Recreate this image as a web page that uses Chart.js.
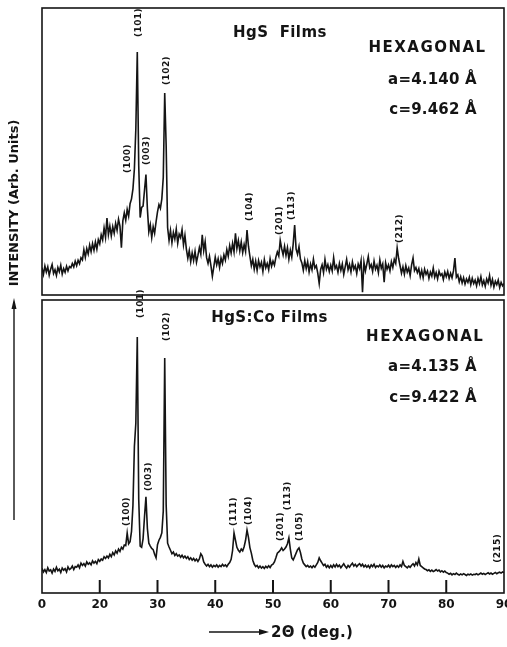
<!DOCTYPE html>
<html>
<head>
<meta charset="utf-8">
<script src="https://cdn.jsdelivr.net/npm/chart.js@4.4.1/dist/chart.umd.min.js"></script>
<style>
  html,body{margin:0;padding:0;background:#fff;overflow:hidden}
  #wrap{position:relative;width:520px;height:647px}
</style>
</head>
<body>
<div id="wrap"><canvas id="xrd" width="520" height="647"></canvas></div>
<script>
// -----------------------------
// Data: intensity, 2θ from 10° to 90° every 0.25°
// -----------------------------
const THETA_START = 10, THETA_STEP = 0.25;

// HgS films (upper trace), arbitrary units 0..100
const hgsIntensity = [
  9.5, 7.2, 10.1, 8.0, 9.8, 6.9, 9.0, 10.6, 7.5, 8.8, 6.8, 9.6, 8.1, 10.4, 7.3, 9.2, 7.9, 10.0, 8.4, 9.9,
  9.5, 11.0, 9.8, 11.8, 10.2, 12.1, 10.9, 13.0, 12.2, 15.8, 13.1, 16.2, 14.3, 17.4, 15.1, 17.9, 15.6, 18.5, 16.0, 19.3,
  17.8, 21.0, 19.2, 23.4, 20.1, 26.8, 21.0, 24.0, 20.6, 23.8, 21.5, 25.0, 22.6, 26.4, 24.0, 16.5, 25.8, 28.6, 26.0, 29.8,
  27.5, 31.8, 33.5, 37.0, 44.0, 58.0, 84.7, 45.0, 27.0, 30.5, 31.0, 36.5, 42.0, 30.0, 22.0, 24.5, 20.0, 23.8, 21.5, 25.5,
  29.0, 31.5, 30.2, 33.5, 41.0, 70.4, 52.0, 23.5, 19.0, 22.5, 18.2, 21.8, 19.5, 23.0, 18.0, 21.2, 20.0, 22.8, 17.5, 20.8,
  16.0, 12.8, 15.5, 11.6, 14.7, 12.0, 15.2, 11.4, 13.8, 16.5, 14.2, 21.0, 15.5, 18.6, 13.0, 11.0, 13.5, 10.2, 6.5, 9.8,
  13.2, 10.5, 12.6, 9.6, 12.9, 11.0, 14.0, 12.2, 15.8, 13.5, 17.2, 14.6, 18.0, 15.0, 21.5, 16.2, 19.0, 15.4, 18.5, 14.8,
  17.6, 15.2, 22.6, 17.0, 13.5, 10.2, 12.4, 9.0, 11.8, 8.6, 12.0, 9.8, 11.4, 8.2, 12.3, 9.5, 11.0, 8.8, 12.6, 10.0,
  11.8, 10.4, 13.2, 15.0, 13.6, 19.0, 16.2, 14.0, 17.0, 13.8, 16.5, 12.5, 15.6, 13.2, 17.8, 24.4, 16.0, 14.2, 16.8, 12.5,
  11.2, 8.6, 12.0, 9.2, 11.6, 8.0, 10.8, 8.8, 12.5, 9.4, 10.2, 7.6, 4.0, 8.9, 10.5, 7.8, 12.4, 9.0, 10.6, 8.2,
  10.4, 8.4, 13.0, 9.2, 10.2, 7.9, 11.0, 8.6, 10.8, 7.2, 9.8, 12.4, 8.8, 10.6, 8.0, 11.5, 9.0, 10.2, 7.5, 10.8,
  9.2, 12.0, 1.0, 11.4, 8.4, 10.8, 13.4, 9.5, 10.6, 8.2, 11.8, 9.0, 10.4, 7.8, 12.2, 9.3, 10.8, 4.5, 11.2, 9.0,
  10.5, 8.4, 11.6, 9.6, 12.4, 11.0, 16.4, 12.8, 10.2, 7.6, 9.8, 7.2, 10.2, 8.0, 9.4, 6.8, 10.5, 12.9, 8.5, 9.6,
  7.8, 9.2, 6.4, 8.6, 6.0, 9.0, 7.2, 8.4, 5.8, 8.0, 6.6, 9.4, 6.2, 7.8, 5.6, 8.3, 6.8, 7.4, 5.4, 8.0,
  6.4, 8.2, 5.8, 7.6, 6.0, 8.4, 12.9, 6.2, 7.0, 4.6, 6.4, 4.2, 6.0, 3.8, 5.6, 4.4, 6.2, 3.6, 5.8, 4.0,
  5.2, 3.2, 5.8, 4.0, 6.4, 3.5, 5.0, 3.0, 5.6, 4.2, 6.8, 3.4, 5.4, 2.8, 4.8, 3.6, 5.2, 2.6, 4.4, 3.2,
  4.0
];

// HgS:Co films (lower trace)
const hgsCoIntensity = [
  8.4, 7.2, 8.0, 7.0, 8.6, 7.5, 7.9, 6.8, 8.2, 7.4, 8.8, 7.6, 8.1, 7.0, 8.5, 7.8, 8.3, 7.2, 8.9, 8.0,
  8.4, 9.2, 8.0, 9.0, 8.8, 9.6, 8.6, 10.2, 9.4, 10.0, 9.2, 10.6, 9.8, 10.3, 9.6, 11.0, 10.2, 10.8, 10.0, 11.4,
  10.8, 11.6, 11.2, 12.4, 11.8, 12.6, 12.0, 13.2, 12.4, 13.8, 13.0, 14.4, 13.6, 15.0, 14.2, 15.6, 15.0, 16.4, 16.2, 20.5,
  16.8, 17.5, 21.0, 30.0, 50.0, 58.0, 87.4, 32.0, 16.0, 15.6, 18.5, 26.0, 32.8, 22.0, 17.0, 16.0, 15.2, 14.8, 13.2, 12.0,
  16.5, 18.0, 19.0, 20.5, 28.0, 80.2, 30.0, 17.0, 15.7, 14.6, 13.4, 14.0, 12.8, 13.4, 12.6, 13.0, 12.2, 12.9, 12.0, 12.6,
  11.8, 12.4, 11.4, 12.0, 11.2, 11.8, 11.0, 11.6, 10.8, 11.6, 13.4, 12.6, 10.6, 9.8, 9.2, 9.8, 9.0, 9.6, 8.8, 9.4,
  9.0, 9.6, 8.8, 9.4, 9.0, 9.8, 9.2, 9.6, 9.0, 9.8, 10.4, 11.5, 14.5, 20.5, 18.0, 15.6, 14.6, 14.0, 15.0, 14.4,
  15.8, 18.0, 21.5, 19.0, 15.5, 13.6, 11.2, 9.8, 9.0, 9.4, 8.6, 9.2, 8.5, 9.0, 8.4, 9.1, 8.6, 9.3, 8.7, 9.5,
  9.8, 10.6, 12.0, 13.6, 14.0, 14.6, 15.4, 14.5, 15.0, 15.7, 16.8, 18.8, 15.0, 12.0, 11.3, 12.4, 13.6, 14.8, 15.4, 13.8,
  11.6, 10.2, 9.6, 9.0, 9.4, 8.8, 9.2, 8.6, 9.3, 8.8, 9.6, 10.4, 12.0, 11.0, 10.2, 9.4, 9.8, 8.8, 9.4, 8.6,
  9.4, 8.7, 9.6, 8.9, 9.8, 9.0, 9.5, 8.6, 9.3, 10.0, 9.1, 8.5, 9.4, 8.8, 9.6, 10.2, 9.2, 9.8, 9.0, 9.6,
  10.0, 9.2, 9.8, 8.9, 9.5, 8.8, 9.4, 8.6, 9.6, 9.0, 9.8, 8.7, 9.3, 8.9, 9.6, 8.8, 9.4, 8.6, 9.2, 8.9,
  9.5, 8.8, 9.6, 9.0, 9.4, 8.7, 9.3, 8.8, 9.6, 9.0, 10.8, 9.4, 9.0, 8.6, 9.2, 8.8, 9.5, 10.0, 9.2, 10.4,
  9.6, 11.6, 9.4, 9.0, 8.6, 8.2, 8.0, 7.6, 7.9, 7.4, 7.8, 7.3, 7.6, 8.0, 7.5, 7.8, 7.2, 7.6, 7.1, 7.5,
  7.0, 6.8, 6.4, 6.7, 6.2, 6.6, 6.3, 6.8, 6.4, 6.1, 6.5, 6.2, 6.6, 6.3, 6.0, 6.4, 6.2, 6.5, 6.1, 6.4,
  6.3, 6.6, 6.2, 6.5, 6.8, 6.4, 6.7, 6.3, 6.6, 6.9, 6.5, 6.8, 6.4, 6.7, 7.0, 6.6, 6.9, 7.1, 6.8, 7.2,
  7.0
];

// axis ticks as printed (the left end is labelled "0")
const tickValues = [10, 20, 30, 40, 50, 60, 70, 80, 90];
const tickLabels = ["0", "20", "30", "40", "50", "60", "70", "80", "90"];

// hkl labels: 2θ of the label and the intensity where it starts
const hgsPeaks = [
  {hkl: "(100)", at: 24.9, level: 41.8},
  {hkl: "(101)", at: 26.8, level: 89.2},
  {hkl: "(003)", at: 28.2, level: 44.6},
  {hkl: "(102)", at: 31.6, level: 72.5},
  {hkl: "(104)", at: 46.0, level: 25.1},
  {hkl: "(201)", at: 51.2, level: 20.2},
  {hkl: "(113)", at: 53.2, level: 25.4},
  {hkl: "(212)", at: 71.9, level: 17.4}
];
const hgsCoPeaks = [
  {hkl: "(100)", at: 24.7, level: 22.2},
  {hkl: "(101)", at: 27.0, level: 93.2},
  {hkl: "(003)", at: 28.4, level: 34.1},
  {hkl: "(102)", at: 31.6, level: 85.3},
  {hkl: "(111)", at: 43.2, level: 22.2},
  {hkl: "(104)", at: 45.7, level: 22.5},
  {hkl: "(201)", at: 51.3, level: 17.1},
  {hkl: "(113)", at: 52.6, level: 27.6},
  {hkl: "(105)", at: 54.6, level: 17.1},
  {hkl: "(215)", at: 88.9, level: 9.6}
];

const hgsInfo = ["HgS  Films", "HEXAGONAL", "a=4.140 Å", "c=9.462 Å"];
const hgsCoInfo = ["HgS:Co Films", "HEXAGONAL", "a=4.135 Å", "c=9.422 Å"];

// -----------------------------
// Helpers
// -----------------------------
const FONT = "'DejaVu Sans', sans-serif";
const INK = "#141414";
const toPoints = arr => arr.map((v, i) => ({x: THETA_START + i * THETA_STEP, y: v}));

function drawHkl(ctx, x, y, peaks){
  ctx.font = `bold 9px ${FONT}`;
  ctx.letterSpacing = "0.4px";
  ctx.textAlign = "left";
  ctx.textBaseline = "middle";
  for(const p of peaks){
    ctx.save();
    ctx.translate(x.getPixelForValue(p.at), y.getPixelForValue(p.level) - 2);
    ctx.rotate(-Math.PI / 2);
    ctx.fillText(p.hkl, 0, 0);
    ctx.restore();
  }
}

function drawInfo(ctx, x, y, info, spots){
  ctx.textBaseline = "middle";
  info.forEach((txt, i)=>{
    const s = spots[i];
    ctx.font = `bold 15px ${FONT}`;
    ctx.letterSpacing = i === 1 ? "1.5px" : (i === 0 ? "0.4px" : "0.2px");
    ctx.textAlign = i === 0 ? "center" : "right";
    ctx.fillText(txt, x.getPixelForValue(s[0]), y.getPixelForValue(s[1]));
  });
}

// frames, inward ticks, labels and axis titles
const decor = {
  id: "decor",
  afterDatasetsDraw(chart){
    const {ctx, scales: {x, yTop, yBot}} = chart;
    const L = x.getPixelForValue(10), R = x.getPixelForValue(90);
    ctx.save();
    ctx.strokeStyle = INK;
    ctx.fillStyle = INK;
    ctx.lineWidth = 1.6;

    // panel boxes
    const t1 = yTop.getPixelForValue(100), b1 = yTop.getPixelForValue(0);
    const t2 = yBot.getPixelForValue(100), b2 = yBot.getPixelForValue(0);
    ctx.strokeRect(L, t1, R - L, b1 - t1);
    ctx.strokeRect(L, t2, R - L, b2 - t2);

    // ticks point into the lower panel
    ctx.lineWidth = 2;
    for(const t of x.ticks){
      if(t.value <= 10 || t.value >= 90) continue;
      const px = x.getPixelForValue(t.value);
      ctx.beginPath(); ctx.moveTo(px, b2); ctx.lineTo(px, b2 - 13); ctx.stroke();
    }

    drawHkl(ctx, x, yTop, hgsPeaks);
    drawHkl(ctx, x, yBot, hgsCoPeaks);

    drawInfo(ctx, x, yTop, hgsInfo, [[51.2, 91.3], [87.0, 86.1], [85.3, 74.9], [85.3, 64.5]]);
    drawInfo(ctx, x, yBot, hgsCoInfo, [[49.4, 93.9], [86.6, 87.4], [85.3, 77.1], [85.3, 66.6]]);

    // y title with arrow
    ctx.save();
    ctx.translate(15, 203);
    ctx.rotate(-Math.PI / 2);
    ctx.font = `bold 13px ${FONT}`;
    ctx.letterSpacing = "0px";
    ctx.textAlign = "center";
    ctx.textBaseline = "middle";
    ctx.fillText("INTENSITY (Arb. Units)", 0, 0);
    ctx.restore();
    ctx.lineWidth = 1.4;
    ctx.beginPath(); ctx.moveTo(14, 520); ctx.lineTo(14, 306); ctx.stroke();
    ctx.beginPath(); ctx.moveTo(14, 298); ctx.lineTo(11.5, 309); ctx.lineTo(16.5, 309); ctx.closePath(); ctx.fill();

    // x title with arrow
    ctx.beginPath(); ctx.moveTo(209, 632); ctx.lineTo(262, 632); ctx.stroke();
    ctx.beginPath(); ctx.moveTo(269, 632); ctx.lineTo(259, 629); ctx.lineTo(259, 635); ctx.closePath(); ctx.fill();
    ctx.font = `bold 15px ${FONT}`;
    ctx.letterSpacing = "0.3px";
    ctx.textAlign = "left";
    ctx.textBaseline = "middle";
    ctx.fillText("2Θ (deg.)", 271, 633);
    ctx.restore();
  }
};

// -----------------------------
// Chart
// -----------------------------
new Chart(document.getElementById("xrd"), {
  type: "line",
  data: {
    datasets: [
      { label: "HgS", data: toPoints(hgsIntensity), yAxisID: "yTop",
        borderColor: INK, borderWidth: 1.6, pointRadius: 0, tension: 0 },
      { label: "HgS:Co", data: toPoints(hgsCoIntensity), yAxisID: "yBot",
        borderColor: INK, borderWidth: 1.6, pointRadius: 0, tension: 0 }
    ]
  },
  options: {
    responsive: false,
    animation: false,
    devicePixelRatio: 1,
    layout: { padding: { left: 42, right: 16, top: 8, bottom: 0 } },
    plugins: { legend: { display: false }, tooltip: { enabled: false } },
    scales: {
      x: {
        type: "linear", min: 10, max: 90,
        afterBuildTicks: s => { s.ticks = tickValues.map(v => ({value: v})); },
        afterFit: s => { s.height = 54; },
        grid: { display: false, drawTicks: false },
        border: { display: false },
        ticks: {
          autoSkip: false, maxRotation: 0, padding: 5, color: INK,
          font: { family: "'DejaVu Sans', sans-serif", size: 12, weight: "bold" },
          callback: v => tickLabels[tickValues.indexOf(v)]
        }
      },
      yBot: { type: "linear", position: "left", stack: "panels", stackWeight: 293,
              weight: 0, min: 0, max: 100, display: false },
      yTop: { type: "linear", position: "left", stack: "panels", stackWeight: 292,
              weight: 1, min: -1.74, max: 100, display: false }
    }
  },
  plugins: [decor]
});
</script>
</body>
</html>
